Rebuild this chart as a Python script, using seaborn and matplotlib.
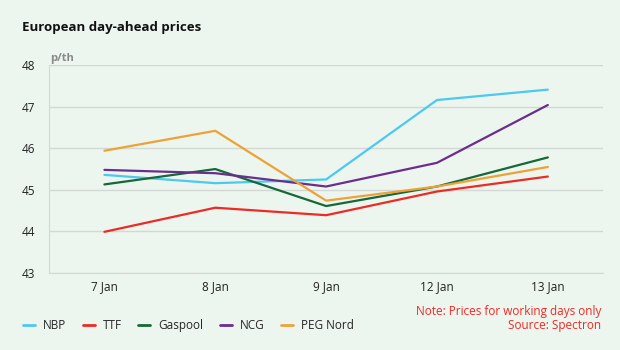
import pandas as pd
import matplotlib
matplotlib.use('Agg')
from matplotlib import pyplot as plt
from matplotlib.lines import Line2D
import seaborn as sns

# Data
days = ['7 Jan', '8 Jan', '9 Jan', '12 Jan', '13 Jan']
nbp = [45.36, 45.16, 45.25, 47.16, 47.41]
ttf = [43.99, 44.57, 44.39, 44.96, 45.32]
gaspool = [45.13, 45.50, 44.61, 45.08, 45.78]
ncg = [45.48, 45.40, 45.08, 45.65, 47.04]
peg_nord = [45.94, 46.42, 44.74, 45.08, 45.55]

series = ['NBP', 'TTF', 'Gaspool', 'NCG', 'PEG Nord']
colors = ['#4cc9f0', '#ee2a24', '#15683a', '#6b2d8e', '#eea236']

df = pd.DataFrame({'day': days * 5,
                   'pos': list(range(len(days))) * 5,
                   'price': nbp + ttf + gaspool + ncg + peg_nord,
                   'series': [s for s in series for _ in days]})

bg = '#edf5ef'
sns.set_style('white')
plt.rcParams['font.family'] = ['Open Sans', 'DejaVu Sans']

fig = plt.figure(figsize=(6.2, 3.5), dpi=100, facecolor=bg)
ax = fig.add_axes([0.079, 0.22, 0.894, 0.594], facecolor=bg)

sns.lineplot(data=df, x='pos', y='price', hue='series', hue_order=series,
             palette=colors, linewidth=1.6, ax=ax, legend=False)

ax.set_xlim(-0.5, 4.5)
ax.set_ylim(43, 48)
ax.set_xticks(range(len(days)))
ax.set_xticklabels(days)
ax.set_yticks([43, 44, 45, 46, 47, 48])
ax.set_xlabel('')
ax.set_ylabel('')
ax.grid(axis='y', color='#d3d8d5', linewidth=1)
ax.set_axisbelow(True)
for side in ['top', 'right']:
    ax.spines[side].set_visible(False)
ax.spines['left'].set_color('#d3d8d5')
ax.spines['bottom'].set_color('#d3d8d5')
ax.tick_params(axis='both', length=0, labelsize=8.5, colors='#222222')
ax.tick_params(axis='y', pad=10)
ax.tick_params(axis='x', pad=5)

fig.text(0.035, 0.91, 'European day-ahead prices', fontsize=9.5, fontweight='bold', color='#111111')
fig.text(0.081, 0.825, 'p/th', fontsize=8, fontweight='bold', color='#8a8a8a')

handles = [Line2D([0], [0], color=c, linewidth=2) for c in colors]
fig.legend(handles, series, loc='lower left', bbox_to_anchor=(0.02, 0.02), ncol=5,
           frameon=False, fontsize=8.5, handlelength=1.0, handletextpad=0.7,
           columnspacing=1.4)

fig.text(0.97, 0.05, 'Note: Prices for working days only\nSource: Spectron', ha='right',
         va='bottom', fontsize=8.5, color='#ee2a24', linespacing=1.15)

fig.savefig('out.png', dpi=100, facecolor=bg)
